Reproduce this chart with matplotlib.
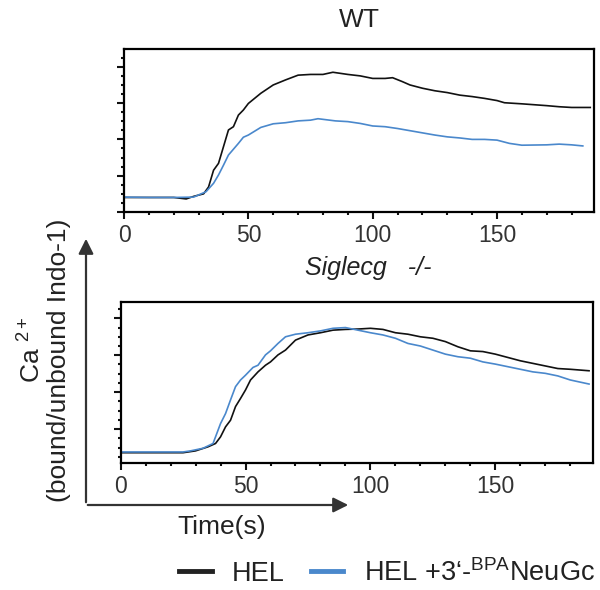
import matplotlib
matplotlib.use("Agg")
import matplotlib.pyplot as plt
from matplotlib.patches import FancyArrowPatch
from matplotlib.lines import Line2D
from matplotlib.ticker import MultipleLocator

plt.rcParams['font.family'] = ['Liberation Sans', 'DejaVu Sans']
plt.rcParams['mathtext.fontset'] = 'custom'
plt.rcParams['mathtext.rm'] = 'Liberation Sans'
plt.rcParams['mathtext.it'] = 'Liberation Sans:italic'

# WT, HEL (noir)
wt_hel_t = [0, 10, 20, 25, 28, 32, 34, 36, 38, 40, 42, 44, 46, 48, 50, 55, 60, 65, 70, 75, 80, 84,
            90, 95, 100, 105, 108, 112, 115, 120, 125, 130, 135, 140, 145, 150, 153, 160, 170, 175, 180, 187.5]
wt_hel_y = [0.40, 0.40, 0.40, 0.36, 0.43, 0.50, 0.69, 1.15, 1.34, 1.80, 2.26, 2.35, 2.67, 2.81, 2.99,
            3.27, 3.50, 3.64, 3.77, 3.79, 3.79, 3.85, 3.79, 3.75, 3.68, 3.68, 3.70, 3.59, 3.50, 3.41,
            3.34, 3.29, 3.22, 3.18, 3.13, 3.07, 3.01, 2.98, 2.93, 2.90, 2.88, 2.88]
# WT, HEL + 3'-BPA NeuGc (bleu)
wt_bpa_t = [0, 10, 20, 28, 30, 33, 36, 38, 40, 42, 44, 46, 48, 50, 55, 60, 65, 70, 75, 78, 85, 90,
            95, 100, 105, 110, 115, 120, 125, 130, 135, 140, 145, 150, 155, 160, 170, 175, 180, 184.5]
wt_bpa_y = [0.41, 0.40, 0.40, 0.41, 0.47, 0.56, 0.79, 1.02, 1.29, 1.57, 1.73, 1.89, 2.06, 2.12, 2.33,
            2.43, 2.46, 2.51, 2.53, 2.57, 2.51, 2.49, 2.44, 2.37, 2.35, 2.30, 2.24, 2.18, 2.12, 2.07,
            2.04, 2.00, 2.00, 1.98, 1.89, 1.84, 1.85, 1.87, 1.85, 1.82]

# Siglecg -/-, HEL (noir)
ko_hel_t = [0, 10, 20, 25, 30, 35, 38, 40, 42, 44, 46, 48, 50, 52, 55, 58, 60, 63, 66, 70, 75, 80,
            85, 90, 95, 100, 105, 110, 115, 120, 125, 130, 135, 140, 145, 150, 155, 160, 165, 170,
            175, 180, 187.5]
ko_hel_y = [0.36, 0.36, 0.36, 0.36, 0.41, 0.52, 0.61, 0.79, 1.06, 1.24, 1.61, 1.83, 2.06, 2.33, 2.55,
            2.73, 2.82, 3.01, 3.14, 3.41, 3.55, 3.61, 3.68, 3.70, 3.71, 3.73, 3.70, 3.61, 3.57, 3.50,
            3.46, 3.37, 3.23, 3.12, 3.10, 3.03, 2.94, 2.85, 2.78, 2.71, 2.64, 2.62, 2.58]
# Siglecg -/-, HEL + 3'-BPA NeuGc (bleu)
ko_bpa_t = [0, 10, 20, 25, 28, 33, 37, 38, 40, 42, 44, 46, 48, 50, 53, 55, 58, 60, 63, 66, 70, 75,
            80, 85, 90, 95, 100, 105, 110, 115, 120, 125, 130, 135, 140, 145, 150, 155, 160, 165,
            170, 175, 180, 187.5]
ko_bpa_y = [0.38, 0.38, 0.38, 0.38, 0.41, 0.48, 0.61, 0.79, 1.15, 1.42, 1.79, 2.15, 2.33, 2.46, 2.67,
            2.73, 3.01, 3.12, 3.32, 3.50, 3.57, 3.61, 3.66, 3.73, 3.75, 3.68, 3.61, 3.55, 3.46, 3.32,
            3.25, 3.14, 3.03, 2.96, 2.92, 2.82, 2.76, 2.69, 2.62, 2.55, 2.51, 2.44, 2.33, 2.22]

bleu = '#4a88cc'
noir = '#111111'

fig = plt.figure(figsize=(6, 5.9), dpi=100)
ax1 = fig.add_axes([0.2067, 0.6407, 0.7833, 0.2762])
ax2 = fig.add_axes([0.201, 0.2158, 0.787, 0.2728])

def style(ax, ylim):
    ax.set_xlim(0, 189)
    ax.set_ylim(*ylim)
    for s in ax.spines.values():
        s.set_linewidth(1.6)
    ax.xaxis.set_major_locator(MultipleLocator(50))
    ax.xaxis.set_minor_locator(MultipleLocator(10))
    ax.yaxis.set_major_locator(MultipleLocator(1))
    ax.yaxis.set_minor_locator(MultipleLocator(0.25))
    ax.tick_params(which='major', direction='out', length=5, width=1.5, labelsize=16.5,
                   pad=4, colors='#111111', labelcolor='#333333')
    ax.tick_params(which='minor', direction='out', length=2.5, width=1.5, colors='#111111')
    ax.tick_params(axis='y', labelleft=False)

ax1.plot(wt_hel_t, wt_hel_y, color=noir, lw=1.2)
ax1.plot(wt_bpa_t, wt_bpa_y, color=bleu, lw=1.2)
style(ax1, (0, 4.49))

ax2.plot(ko_hel_t, ko_hel_y, color=noir, lw=1.2)
ax2.plot(ko_bpa_t, ko_bpa_y, color=bleu, lw=1.2)
style(ax2, (0.09, 4.45))

fig.text(359/600, 1 - 20/590, 'WT', ha='center', va='center', fontsize=19, color='#222222')
fig.text(368/600, 1 - 268/590, 'Siglecg   -/-', ha='center', va='center', fontsize=18,
         style='italic', color='#222222')

# fleches des axes
fig.add_artist(FancyArrowPatch((86/600, 1 - 505/590), (86/600, 1 - 236/590),
                               transform=fig.transFigure, arrowstyle='-|>,head_length=6,head_width=3',
                               lw=1.6, color='#333333', mutation_scale=1.5))
fig.add_artist(FancyArrowPatch((85/600, 1 - 505/590), (351/600, 1 - 505/590),
                               transform=fig.transFigure, arrowstyle='-|>,head_length=6,head_width=3',
                               lw=1.6, color='#333333', mutation_scale=1.5))

fig.text(32/600, 1 - 350/590, r'Ca $\mathregular{^{2+}}$', rotation=90, ha='center', va='center',
         fontsize=19, color='#222222')
fig.text(59/600, 1 - 360/590, '(bound/unbound Indo-1)', rotation=90, ha='center', va='center',
         fontsize=19, color='#222222')
fig.text(222/600, 1 - 527/590, 'Time(s)', ha='center', va='center', fontsize=19, color='#222222')

handles = [Line2D([], [], color='#222222', lw=3.5), Line2D([], [], color=bleu, lw=3.5)]
labels = ['HEL', r'HEL +3‘-$\mathregular{^{BPA}}$NeuGc']
fig.legend(handles, labels, loc='center', bbox_to_anchor=(387/600, 1 - 573/590), ncol=2,
           frameon=False, fontsize=19.5, handlelength=1.2, handletextpad=0.75, columnspacing=0.95,
           labelcolor='#222222')

fig.savefig('out.png', dpi=100)
